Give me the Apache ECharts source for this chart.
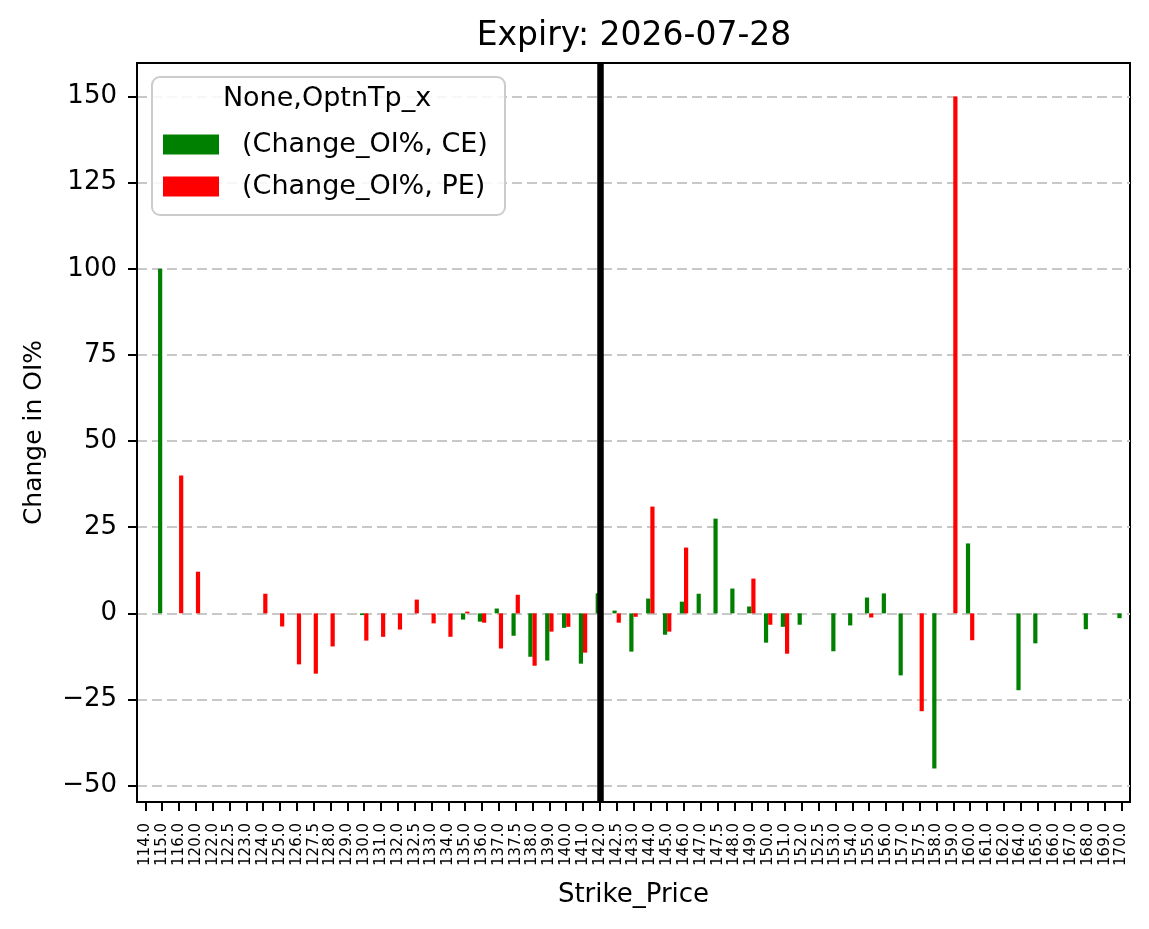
<!DOCTYPE html>
<html>
<head>
<meta charset="utf-8">
<script src="https://cdn.jsdelivr.net/npm/echarts@6/dist/echarts.min.js"></script>
<style>
  html, body { margin: 0; padding: 0; background: #fff; }
  #chart { width: 1149px; height: 929px; }
</style>
</head>
<body>
<div id="chart"></div>
<script>
const FONT = "'DejaVu Sans', sans-serif";
const CE_COLOR = "#008000";
const PE_COLOR = "#ff0000";
const GRID_COLOR = "#c8c8c8";

const strikes = [
  "114.0", "115.0", "116.0", "120.0", "122.0", "122.5", "123.0", "124.0", "125.0", "126.0",
  "127.5", "128.0", "129.0", "130.0", "131.0", "132.0", "132.5", "133.0", "134.0", "135.0",
  "136.0", "137.0", "137.5", "138.0", "139.0", "140.0", "141.0", "142.0", "142.5", "143.0",
  "144.0", "145.0", "146.0", "147.0", "147.5", "148.0", "149.0", "150.0", "151.0", "152.0",
  "152.5", "153.0", "154.0", "155.0", "156.0", "157.0", "157.5", "158.0", "159.0", "160.0",
  "161.0", "162.0", "164.0", "165.0", "166.0", "167.0", "168.0", "169.0", "170.0",
];

const changeCE = [
  null, 100, null, null, null, null, null, null, null, null,
  null, null, null, -0.5, null, null, null, null, null, -1.8,
  -2.4, 1.4, -6.5, -12.6, -13.7, -4.2, -14.6, 5.8, 0.8, -11.1,
  4.3, -6.2, 3.4, 5.7, 27.5, 7.2, 2.0, -8.5, -3.9, -3.3,
  null, -11.0, -3.5, 4.6, 5.8, -18.0, null, -45.0, null, 20.3,
  null, null, -22.3, -8.7, null, null, -4.6, null, -1.4,
];

const changePE = [
  null, null, 40, 12.1, null, null, null, 5.7, -3.8, -14.8,
  -17.5, -9.6, null, -7.9, -6.8, -4.7, 4.0, -2.9, -6.8, 0.5,
  -2.7, -10.2, 5.4, -15.2, -5.3, -3.9, -11.4, null, -2.7, -1.0,
  31.0, -5.3, 19.1, null, null, null, 10.1, -3.3, -11.7, null,
  null, null, null, -1.2, null, null, -28.4, null, 150, -7.8,
  null, null, null, null, null, null, null, null, null,
];

const yTicks = [-50, -25, 0, 25, 50, 75, 100, 125, 150];
const spotStrike = "142.0";

const chart = echarts.init(document.getElementById("chart"), undefined, { renderer: "canvas" });

chart.setOption({
  backgroundColor: "#fff",
  animation: false,
  textStyle: { fontFamily: FONT, color: "#000" },
  title: {
    text: "Expiry: 2026-07-28",
    left: 629,
    textAlign: "center",
    top: 15,
    textStyle: { fontFamily: FONT, fontSize: 33, fontWeight: "normal", color: "#000" },
  },
  grid: {
    left: 137,
    top: 63,
    right: 19,
    bottom: 127,
    show: true,
    borderColor: "#000",
    borderWidth: 2,
    backgroundColor: "transparent",
  },
  legend: {
    orient: "vertical",
    left: 158,
    top: 126,
    z: 101,
    icon: "rect",
    itemWidth: 56,
    itemHeight: 20,
    itemGap: 15,
    selectedMode: false,
    textStyle: { fontFamily: FONT, fontSize: 27, color: "#000", padding: [0, 0, 0, 18] },
    data: ["(Change_OI%, CE)", "(Change_OI%, PE)"],
  },
  graphic: [
    {
      type: "rect",
      z: 100,
      shape: { x: 152, y: 77, width: 353, height: 138, r: 8 },
      style: { fill: "rgba(255,255,255,0.85)", stroke: "#cccccc", lineWidth: 2 },
    },
    {
      type: "text",
      z: 101,
      x: 327,
      y: 99,
      style: {
        text: "None,OptnTp_x",
        font: "27px 'DejaVu Sans', sans-serif",
        fill: "#000",
        align: "center",
        verticalAlign: "middle",
      },
    },
  ],
  xAxis: {
    type: "category",
    data: strikes,
    boundaryGap: true,
    name: "Strike_Price",
    nameLocation: "middle",
    nameGap: 80,
    nameTextStyle: { fontFamily: FONT, fontSize: 26, color: "#000" },
    axisLine: { show: true, onZero: false, lineStyle: { color: "#000", width: 2 } },
    axisTick: { show: true, alignWithLabel: true, inside: false, length: 9, lineStyle: { color: "#000", width: 2 } },
    axisLabel: { interval: 0, rotate: 90, margin: 21, fontFamily: FONT, fontSize: 15, color: "#000" },
    splitLine: { show: false },
  },
  yAxis: {
    type: "value",
    min: -54.75,
    max: 159.75,
    name: "Change in OI%",
    nameLocation: "middle",
    nameRotate: 90,
    nameGap: 90,
    nameTextStyle: { fontFamily: FONT, fontSize: 25, color: "#000" },
    axisLine: { show: true, lineStyle: { color: "#000", width: 2 } },
    axisTick: { show: true, inside: false, length: 9, customValues: yTicks, lineStyle: { color: "#000", width: 2 } },
    axisLabel: {
      customValues: yTicks,
      margin: 20,
      fontFamily: FONT,
      fontSize: 26,
      color: "#000",
      formatter: (v) => (v < 0 ? "\u2212" + Math.abs(v) : String(v)),
    },
    splitLine: { show: true, lineStyle: { color: GRID_COLOR, width: 2, type: [10, 5] } },
  },
  series: [
    {
      name: "(Change_OI%, CE)",
      type: "bar",
      barWidth: 4.2,
      barGap: "0%",
      itemStyle: { color: CE_COLOR },
      data: changeCE,
    },
    {
      name: "(Change_OI%, PE)",
      type: "bar",
      barWidth: 4.2,
      barGap: "0%",
      itemStyle: { color: PE_COLOR },
      data: changePE,
    },
    {
      // spot strike marker, kept off the bars so it sits on the category centre
      name: "spot",
      type: "line",
      data: [],
      silent: true,
      z: 10,
      markLine: {
        silent: true,
        symbol: "none",
        label: { show: false },
        lineStyle: { color: "#000", width: 6.5, type: "solid" },
        data: [{ xAxis: spotStrike }],
      },
    },
  ],
});
</script>
</body>
</html>
